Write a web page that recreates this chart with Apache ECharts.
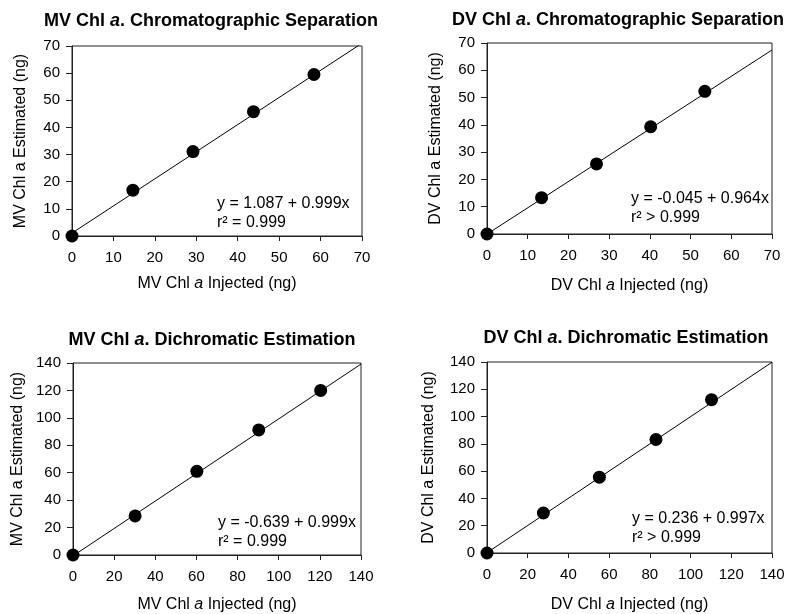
<!DOCTYPE html>
<html>
	<head>
		<meta charset="utf-8">
		<title></title>
		<style type="text/css">
			body{ margin: 0; background: #fff; }
			#main{
				width: 791px;
				height: 614px;
			}
		</style>
	</head>
	<body>
		<div id="main"></div>
	</body>
<script src="https://cdn.jsdelivr.net/npm/echarts@6/dist/echarts.min.js" type="text/javascript" charset="utf-8"></script>
<script type="text/javascript">
	// values
	var mvSepX = [0, 14.7, 29.2, 43.8, 58.4];
	var mvSepY = [0, 16.9, 31.1, 45.8, 59.5];
	var dvSepX = [0, 13.4, 26.9, 40.2, 53.5];
	var dvSepY = [0, 13.3, 25.7, 39.3, 52.3];
	var mvDiX = [0, 30.2, 60.2, 90.3, 120.4];
	var mvDiY = [0, 28.5, 61.0, 91.2, 120.0];
	var dvDiX = [0, 27.7, 55.2, 83.0, 110.3];
	var dvDiY = [0, 29.3, 55.6, 83.2, 112.4];

	// fitted lines, end points
	var mvSepFitX = [0, 70];
	var mvSepFitY = [1.087, 71.02];
	var dvSepFitX = [0, 70];
	var dvSepFitY = [-0.045, 67.44];
	var mvDiFitX = [0, 140];
	var mvDiFitY = [-0.639, 139.22];
	var dvDiFitX = [0, 140];
	var dvDiFitY = [0.236, 139.82];

	var titles = [
		'{n|MV Chl }{i|a}{n|. Chromatographic Separation}',
		'{n|DV Chl }{i|a}{n|. Chromatographic Separation}',
		'{n|MV Chl }{i|a}{n|. Dichromatic Estimation}',
		'{n|DV Chl }{i|a}{n|. Dichromatic Estimation}'
	];
	var xNames = [
		'{n|MV Chl }{i|a}{n| Injected (ng)}',
		'{n|DV Chl }{i|a}{n| Injected (ng)}',
		'{n|MV Chl }{i|a}{n| Injected (ng)}',
		'{n|DV Chl }{i|a}{n| Injected (ng)}'
	];
	var yNames = ['MV Chl a Estimated (ng)', 'DV Chl a Estimated (ng)', 'MV Chl a Estimated (ng)', 'DV Chl a Estimated (ng)'];
	var equations = [
		'y = 1.087 + 0.999x\nr² = 0.999',
		'y = -0.045 + 0.964x\nr² > 0.999',
		'y = -0.639 + 0.999x\nr² = 0.999',
		'y = 0.236 + 0.997x\nr² > 0.999'
	];
	var axisMax = [70, 70, 140, 140];
	var axisStep = [10, 10, 20, 20];

	var font = 'Liberation Sans, Arial, sans-serif';

	var grids = [
		{left: 72, top: 46, width: 290, height: 190},
		{left: 487, top: 43, width: 285, height: 191},
		{left: 73, top: 363, width: 288, height: 193},
		{left: 487, top: 362, width: 285, height: 191}
	];
	var titlePos = [[211, 12], [618, 11], [212, 331], [626, 329]];
	var xNameGap = [40, 44, 42, 44];
	var yNameGap = [43, 43, 47, 50];
	var eqPos = [[217, 194], [631, 189], [218, 513], [632, 509]];

	var points = [[mvSepX, mvSepY], [dvSepX, dvSepY], [mvDiX, mvDiY], [dvDiX, dvDiY]];
	var fits = [[mvSepFitX, mvSepFitY], [dvSepFitX, dvSepFitY], [mvDiFitX, mvDiFitY], [dvDiFitX, dvDiFitY]];

	function pairs(xs, ys) {
		var out = [];
		for (var i = 0; i < xs.length; i++) {
			out.push([xs[i], ys[i]]);
		}
		return out;
	}

	var option = {
		backgroundColor: '#fff',
		animation: false,
		title: [],
		grid: [],
		xAxis: [],
		yAxis: [],
		series: [],
		graphic: []
	};

	for (var k = 0; k < 4; k++) {
		option.title.push({
			text: titles[k],
			left: titlePos[k][0],
			top: titlePos[k][1],
			textAlign: 'center',
			padding: 0,
			textStyle: {
				rich: {
					n: {fontFamily: font, fontSize: 18, fontWeight: 'bold', color: '#000'},
					i: {fontFamily: font, fontSize: 18, fontWeight: 'bold', fontStyle: 'italic', color: '#000'}
				}
			}
		});
		option.grid.push({
			left: grids[k].left, top: grids[k].top, width: grids[k].width, height: grids[k].height,
			show: true, borderColor: '#222', borderWidth: 1
		});
		option.xAxis.push({
			type: 'value', gridIndex: k, min: 0, max: axisMax[k], interval: axisStep[k],
			name: xNames[k], nameLocation: 'middle', nameGap: xNameGap[k],
			nameTextStyle: {
				rich: {
					n: {fontFamily: font, fontSize: 16, color: '#000'},
					i: {fontFamily: font, fontSize: 16, fontStyle: 'italic', color: '#000'}
				}
			},
			axisLine: {show: true, lineStyle: {color: '#222', width: 1}},
			axisTick: {show: true, length: 5, lineStyle: {color: '#222'}},
			axisLabel: {fontFamily: font, fontSize: 15, color: '#000', margin: 14},
			splitLine: {show: false}
		});
		option.yAxis.push({
			type: 'value', gridIndex: k, min: 0, max: axisMax[k], interval: axisStep[k],
			name: yNames[k], nameLocation: 'middle', nameGap: yNameGap[k],
			nameTextStyle: {fontFamily: font, fontSize: 16, color: '#000'},
			axisLine: {show: true, lineStyle: {color: '#222', width: 1}},
			axisTick: {show: true, length: 6, lineStyle: {color: '#222'}},
			axisLabel: {fontFamily: font, fontSize: 15, color: '#000', margin: 12},
			splitLine: {show: false}
		});
		option.series.push({
			type: 'line', xAxisIndex: k, yAxisIndex: k,
			data: pairs(fits[k][0], fits[k][1]),
			showSymbol: false, clip: true,
			lineStyle: {color: '#000', width: 1}
		});
		option.series.push({
			type: 'scatter', xAxisIndex: k, yAxisIndex: k,
			data: pairs(points[k][0], points[k][1]),
			symbolSize: 13, clip: false,
			itemStyle: {color: '#000', opacity: 1}
		});
		option.graphic.push({
			type: 'text', left: eqPos[k][0], top: eqPos[k][1],
			style: {text: equations[k], font: '16px ' + font, fill: '#000', lineHeight: 19}
		});
	}

	var myChart = echarts.init(document.getElementById('main'));
	myChart.setOption(option);
</script>
</html>
